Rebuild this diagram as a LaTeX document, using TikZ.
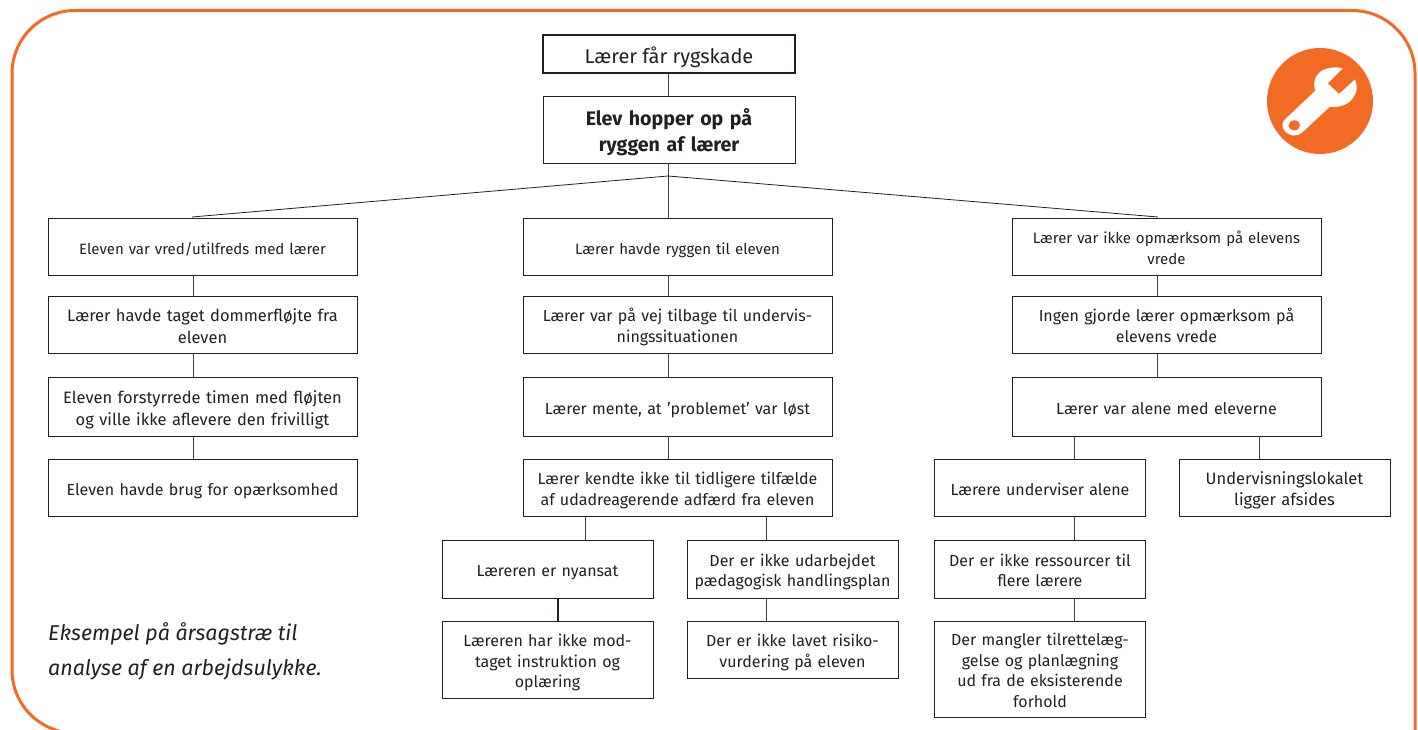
\documentclass[tikz,border=0pt]{standalone}
\usepackage{fontspec}
\setmainfont{Fira Sans}
\definecolor{orangeframe}{HTML}{F36A24}
\definecolor{inkdark}{HTML}{231F20}
\tikzset{
  box/.style={draw=inkdark,line width=0.8pt,align=center,inner sep=0pt,text=inkdark,font=\fontsize{16}{21.5}\selectfont},
  sm/.style={font=\fontsize{15}{20.5}\selectfont},
  lg/.style={font=\fontsize{16.5}{22}\selectfont},
  nar/.style={font=\fontsize{16}{20.7}\selectfont}
}
\tikzset{link/.style={draw=inkdark!85,line width=0.8pt}}
\newcommand{\st}{\rule{0pt}{19pt}}
\newcommand{\sttall}{\rule{0pt}{23pt}}
\newcommand{\en}{\rule[-4pt]{0pt}{4pt}}
\begin{document}
\begin{tikzpicture}[x=1pt,y=-1pt]
\useasboundingbox (0,0) rectangle (1418,730);
\begin{scope}
\clip (0,0) rectangle (1418,730);
\draw[orangeframe,line width=3pt,rounded corners=63pt] (1415,790) -- (1415,10.5) -- (12,10.5) -- (12,733) -- (220,733);
\end{scope}
\node[box,minimum width=252,minimum height=38,line width=1.6pt,font=\fontsize{20}{26}\selectfont] (top) at (669,54) {\sttall Lærer får rygskade\en};
\node[box,minimum width=252,minimum height=67,text width=240,font=\fontsize{19.6}{26}\selectfont\bfseries] (elev) at (669,129.5) {\sttall Elev hopper op på\\ryggen af lærer\en};
\node[box,sm,minimum width=309,minimum height=57,text width=300] (a1) at (202.5,246.5) {\st Eleven var vred/utilfreds med lærer\en};
\node[box,lg,minimum width=309,minimum height=57,text width=300] (a2) at (202.5,324.5) {\st Lærer havde taget dommerfløjte fra\\eleven\en};
\node[box,lg,minimum width=309,minimum height=59,text width=300] (a3) at (202.5,406.5) {\st Eleven forstyrrede timen med fløjten\\og ville ikke aflevere den frivilligt\en};
\node[box,minimum width=309,minimum height=57,text width=300] (a4) at (202.5,487.5) {\st Eleven havde brug for opærksomhed\en};
\node[box,sm,minimum width=309,minimum height=57,text width=300] (b1) at (677.5,246.5) {\st Lærer havde ryggen til eleven\en};
\node[box,minimum width=309,minimum height=57,text width=300] (b2) at (677.5,324.5) {\st Lærer var på vej tilbage til undervis-\\ningssituationen\en};
\node[box,minimum width=309,minimum height=59,text width=300] (b3) at (677.5,406.5) {\st Lærer mente, at ’problemet’ var løst\en};
\node[box,minimum width=309,minimum height=57,text width=300] (b4) at (677.5,487.5) {\st Lærer kendte ikke til tidligere tilfælde\\af udadreagerende adfærd fra eleven\en};
\node[box,nar,minimum width=211,minimum height=58,text width=200] (b5) at (547.5,569) {\st Læreren er nyansat\en};
\node[box,nar,minimum width=211,minimum height=58,text width=204] (b6) at (792.5,569) {\st Der er ikke udarbejdet\\pædagogisk handlingsplan\en};
\node[box,nar,minimum width=211,minimum height=77,text width=200] (b7) at (547.5,659.5) {\st Læreren har ikke mod-\\taget instruktion og\\oplæring\en};
\node[box,nar,minimum width=211,minimum height=57,text width=200] (b8) at (792.5,649.5) {\st Der er ikke lavet risiko-\\vurdering på eleven\en};
\node[box,sm,minimum width=309,minimum height=57,text width=300] (c1) at (1166.5,246.5) {\st Lærer var ikke opmærksom på elevens\\vrede\en};
\node[box,minimum width=309,minimum height=57,text width=300] (c2) at (1166.5,324.5) {\st Ingen gjorde lærer opmærksom på\\elevens vrede\en};
\node[box,minimum width=309,minimum height=59,text width=300] (c3) at (1166.5,406.5) {\st Lærer var alene med eleverne\en};
\node[box,nar,minimum width=211,minimum height=57,text width=200] (c4) at (1040,487.5) {\st Lærere underviser alene\en};
\node[box,nar,font=\fontsize{16.5}{20.7}\selectfont,minimum width=211,minimum height=57,text width=200] (c5) at (1284.5,487.5) {\st Undervisningslokalet\\ligger afsides\en};
\node[box,nar,minimum width=211,minimum height=58,text width=200] (c6) at (1040,569) {\st Der er ikke ressourcer til\\flere lærere\en};
\node[box,nar,minimum width=211,minimum height=96,text width=200] (c7) at (1040,669) {\st Der mangler tilrettelæg-\\gelse og planlægning\\ud fra de eksisterende\\forhold\en};
\coordinate (apex) at (668,176);
\coordinate (al) at (193,0); \coordinate (cm) at (1157,0);
\coordinate (bl) at (585,0); \coordinate (br) at (766,0);
\coordinate (cl) at (1074,0); \coordinate (cr) at (1259,0);
\coordinate (bt) at (558,0);
\coordinate (fl) at (192,217); \coordinate (fr) at (1158,217);
\draw[link] (top.south -| apex) -- (elev.north -| apex);
\draw[link] (elev.south -| apex) -- (b1.north -| apex);
\draw[inkdark,line width=0.8pt] (fl) -- (apex) -- (fr);
\draw[link] (a1.south -| al) -- (a2.north -| al);
\draw[link] (a2.south -| al) -- (a3.north -| al);
\draw[link] (a3.south -| al) -- (a4.north -| al);
\draw[link] (b1.south -| apex) -- (b2.north -| apex);
\draw[link] (b2.south -| apex) -- (b3.north -| apex);
\draw[link] (b3.south -| apex) -- (b4.north -| apex);
\draw[link] (c1.south -| cm) -- (c2.north -| cm);
\draw[link] (c2.south -| cm) -- (c3.north -| cm);
\draw[link] (b4.south -| bl) -- (b5.north -| bl);
\draw[link] (b4.south -| br) -- (b6.north -| br);
\draw[inkdark,line width=2.4pt] (b5.south -| bt) -- (b7.north -| bt);
\draw[link] (b6.south -| br) -- (b8.north -| br);
\draw[link] (c3.south -| cl) -- (c4.north -| cl);
\draw[link] (c3.south -| cr) -- (c5.north -| cr);
\draw[link] (c4.south -| cl) -- (c6.north -| cl);
\draw[link] (c6.south -| cl) -- (c7.north -| cl);
\fill[orangeframe] (1320,101) circle (53);
\begin{scope}[shift={(1320,101)}]
\fill[white] (22.7,-32.7) -- (7.7,-17.7) -- (19,-7) -- (35,-21.7)
 .. controls (38,-12) and (37,-9) .. (33,-3) .. controls (29,3) and (20,7) .. (10,5.7)
 -- (-17.7,31.3) .. controls (-22,36) and (-31,36) .. (-36,29) .. controls (-38.5,25) and (-38,21) .. (-35,18.3)
 -- (-4.7,-10.3) .. controls (-7,-17) and (-6,-22) .. (-2,-27) .. controls (3,-33) and (14,-35) .. (22.7,-32.7) -- cycle;
\fill[orangeframe] (-25.7,24.3) ellipse (5.8 and 5);
\end{scope}
\node[anchor=west,align=left,text=inkdark,inner sep=0pt,font=\fontsize{21.4}{35}\selectfont\itshape] (cap) at (48,651) {Eksempel på årsagstræ til\\analyse af en arbejdsulykke.};
\end{tikzpicture}
\end{document}
